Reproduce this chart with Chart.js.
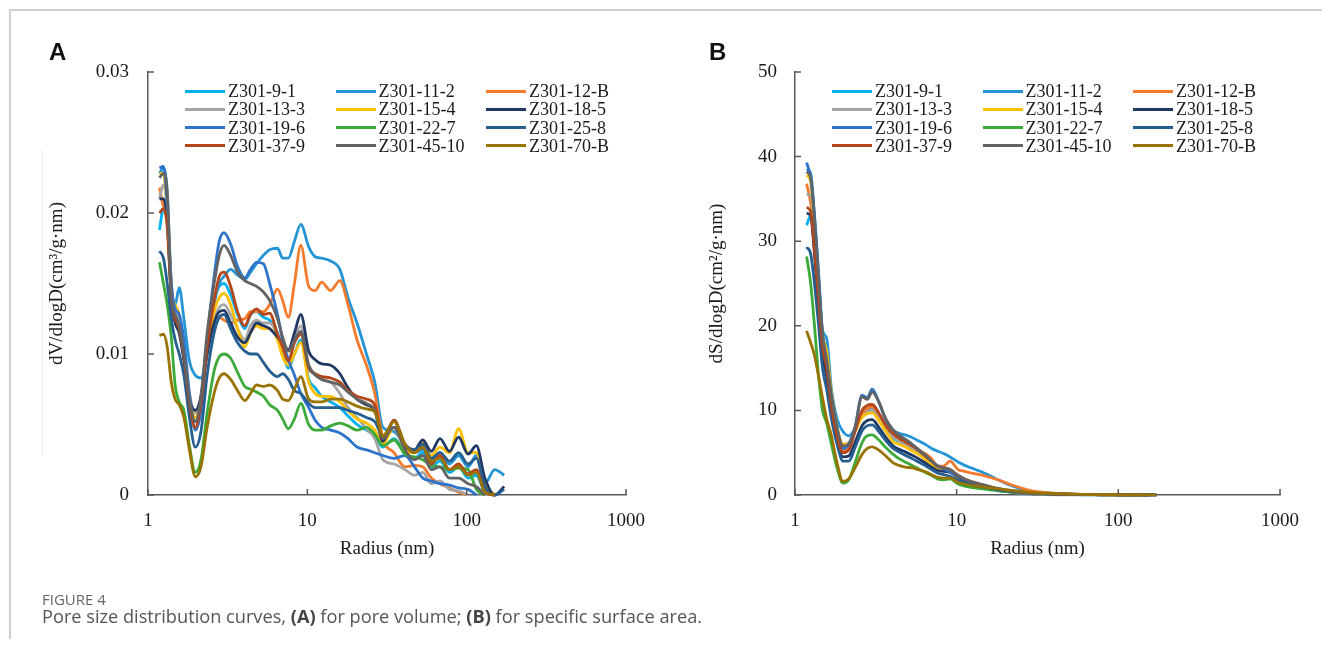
<!DOCTYPE html>
<html>
<head>
<meta charset="utf-8">
<script src="https://cdn.jsdelivr.net/npm/chart.js@4.4.1/dist/chart.umd.min.js"></script>
<style>
  html, body { margin: 0; padding: 0; background: #fff; }
  body { width: 1322px; height: 650px; position: relative; overflow: hidden; }
  .frame-top { position: absolute; left: 9px; top: 9px; width: 1313px; border-top: 2px solid #d0d0d0; }
  .frame-left { position: absolute; left: 9px; top: 9px; height: 630px; border-left: 2px solid #d0d0d0; }
  .faint { position: absolute; left: 42px; top: 150px; height: 305px; border-left: 1px solid #ececec; }
  .panel { position: absolute; top: 0; }
  .letter { position: absolute; top: 38px; font: bold 24px "Liberation Sans", Arial, sans-serif; color: #111; }
  .legend { position: absolute; top: 0; left: 0; }
  .key { position: absolute; height: 3px; }
  .key-label { position: absolute; font: 18px "Liberation Serif", serif; color: #1a1a1a; line-height: 18px; white-space: nowrap; }
  .fig-label { position: absolute; left: 42px; top: 589px; font: 15px "Open Sans", sans-serif; color: #666; }
  .caption { position: absolute; left: 42px; top: 604px; font: 18.2px "Open Sans", sans-serif; color: #555; white-space: nowrap; }
  .caption b { color: #444; }
</style>
</head>
<body>
<div class="frame-top"></div>
<div class="frame-left"></div>
<div class="faint"></div>

<div class="panel" style="left:0px"><canvas id="chartA" width="660" height="600"></canvas></div>
<div class="panel" style="left:660px"><canvas id="chartB" width="662" height="600"></canvas></div>
<div class="letter" style="left:49px">A</div>
<div class="letter" style="left:709px">B</div>
<div id="legendA" class="legend"></div>
<div id="legendB" class="legend"></div>

<div class="fig-label">FIGURE 4</div>
<div class="caption">Pore size distribution curves, <b>(A)</b> for pore volume; <b>(B)</b> for specific surface area.</div>

<script>
// pore radius (nm), shared by every sample
const radius = [1.18, 1.25, 1.32, 1.4, 1.48, 1.57, 1.68, 1.82, 1.98, 2.15,
  2.35, 2.6, 2.8, 3.0, 3.3, 3.65, 4.05, 4.4, 4.8, 5.3,
  5.8, 6.5, 7.0, 7.6, 8.3, 9.1, 10.2, 11.2, 12.3, 14,
  16, 18, 20.5, 23.5, 26.5, 29.8, 35, 41, 47, 53,
  60, 68, 78, 89, 102, 115, 130, 150, 172];

const sampleNames = ["Z301-9-1", "Z301-11-2", "Z301-12-B", "Z301-13-3", "Z301-15-4", "Z301-18-5",
  "Z301-19-6", "Z301-22-7", "Z301-25-8", "Z301-37-9", "Z301-45-10", "Z301-70-B"];

// dV/dlogD, cm3/(g·nm)
const vol_9_1 = [0.0188, 0.0203, 0.0195, 0.0145, 0.0130, 0.0120, 0.0100, 0.0068, 0.0052, 0.0068,
  0.0110, 0.0138, 0.0148, 0.0150, 0.0142, 0.0128, 0.0118, 0.0128, 0.0130, 0.0126,
  0.0124, 0.0115, 0.0103, 0.0090, 0.0100, 0.0110, 0.0082, 0.0076, 0.0070, 0.0066,
  0.0062, 0.0056, 0.0050, 0.0046, 0.0042, 0.0034, 0.0040, 0.0030, 0.0026, 0.0030,
  0.0020, 0.0024, 0.0016, 0.0020, 0.0012, 0.0014, 0.0002, 0, null];
const vol_11_2 = [0.0228, 0.0232, 0.0215, 0.0150, 0.0135, 0.0147, 0.0125, 0.0095, 0.0085, 0.0083,
  0.0100, 0.0135, 0.0150, 0.0155, 0.0160, 0.0156, 0.0153, 0.0158, 0.0164, 0.0170,
  0.0174, 0.0175, 0.0168, 0.0168, 0.0180, 0.0192, 0.0176, 0.0169, 0.0168, 0.0166,
  0.0160, 0.0140, 0.0122, 0.0100, 0.0080, 0.0048, 0.0045, 0.0035, 0.0030, 0.0032,
  0.0025, 0.0030, 0.0022, 0.0028, 0.0020, 0.0028, 0.0008, 0.0018, 0.0014];
const vol_12_B = [0.0218, 0.0205, 0.0200, 0.0150, 0.0125, 0.0120, 0.0100, 0.0065, 0.0047, 0.0065,
  0.0105, 0.0125, 0.0126, 0.0124, 0.0122, 0.0124, 0.0125, 0.0130, 0.0130, 0.0130,
  0.0135, 0.0146, 0.0138, 0.0126, 0.0150, 0.0177, 0.0148, 0.0145, 0.0151, 0.0145,
  0.0152, 0.0135, 0.0110, 0.0092, 0.0072, 0.0040, 0.0030, 0.0020, 0.0021, 0.0020,
  0.0012, 0.0008, 0.0005, 0.0002, 0, null, null, null, null];
const vol_13_3 = [0.0210, 0.0220, 0.0205, 0.0145, 0.0130, 0.0122, 0.0100, 0.0072, 0.0058, 0.0070,
  0.0100, 0.0125, 0.0133, 0.0135, 0.0128, 0.0118, 0.0110, 0.0120, 0.0124, 0.0122,
  0.0122, 0.0114, 0.0104, 0.0095, 0.0110, 0.0120, 0.0092, 0.0086, 0.0082, 0.0080,
  0.0072, 0.0062, 0.0055, 0.0047, 0.0040, 0.0025, 0.0022, 0.0018, 0.0014, 0.0016,
  0.0008, 0.0010, 0.0004, 0.0003, 0, null, null, null, null];
const vol_15_4 = [0.0228, 0.0228, 0.0200, 0.0145, 0.0135, 0.0128, 0.0105, 0.0070, 0.0055, 0.0068,
  0.0105, 0.0130, 0.0140, 0.0143, 0.0135, 0.0118, 0.0105, 0.0115, 0.0120, 0.0118,
  0.0118, 0.0110, 0.0098, 0.0092, 0.0100, 0.0108, 0.0080, 0.0072, 0.0070, 0.0070,
  0.0066, 0.0060, 0.0054, 0.0051, 0.0046, 0.0036, 0.0048, 0.0032, 0.0030, 0.0038,
  0.0028, 0.0034, 0.0030, 0.0047, 0.0030, 0.0030, 0.0008, 0, null];
const vol_18_5 = [0.0210, 0.0210, 0.0195, 0.0140, 0.0122, 0.0115, 0.0095, 0.0068, 0.0060, 0.0070,
  0.0100, 0.0122, 0.0130, 0.0131, 0.0122, 0.0112, 0.0108, 0.0115, 0.0122, 0.0120,
  0.0118, 0.0112, 0.0108, 0.0103, 0.0115, 0.0128, 0.0102, 0.0096, 0.0093, 0.0092,
  0.0086, 0.0076, 0.0068, 0.0064, 0.0060, 0.0038, 0.0053, 0.0034, 0.0032, 0.0039,
  0.0031, 0.0040, 0.0031, 0.0041, 0.0029, 0.0035, 0.0012, 0, 0.0006];
const vol_19_6 = [0.0232, 0.0233, 0.0205, 0.0150, 0.0132, 0.0128, 0.0110, 0.0072, 0.0046, 0.0060,
  0.0110, 0.0155, 0.0180, 0.0186, 0.0178, 0.0162, 0.0154, 0.0160, 0.0165, 0.0164,
  0.0150, 0.0128, 0.0110, 0.0096, 0.0085, 0.0072, 0.0062, 0.0053, 0.0048, 0.0046,
  0.0044, 0.0040, 0.0034, 0.0032, 0.0030, 0.0028, 0.0026, 0.0028, 0.0020, 0.0012,
  0.0010, 0.0008, 0.0007, 0.0005, 0.0004, 0, null, null, null];
const vol_22_7 = [0.0165, 0.0150, 0.0135, 0.0112, 0.0078, 0.0066, 0.0060, 0.0035, 0.0016, 0.0025,
  0.0058, 0.0088, 0.0098, 0.0100, 0.0097, 0.0087, 0.0077, 0.0075, 0.0073, 0.0070,
  0.0064, 0.0060, 0.0054, 0.0047, 0.0054, 0.0065, 0.0050, 0.0046, 0.0046, 0.0049,
  0.0051, 0.0049, 0.0046, 0.0048, 0.0043, 0.0035, 0.0039, 0.0029, 0.0027, 0.0025,
  0.0021, 0.0020, 0.0018, 0.0019, 0.0018, 0.0004, 0, null, null];
const vol_25_8 = [0.0173, 0.0168, 0.0150, 0.0125, 0.0110, 0.0100, 0.0085, 0.0055, 0.0034, 0.0045,
  0.0085, 0.0115, 0.0126, 0.0128, 0.0118, 0.0108, 0.0102, 0.0100, 0.0100, 0.0094,
  0.0088, 0.0084, 0.0086, 0.0082, 0.0074, 0.0072, 0.0065, 0.0062, 0.0062, 0.0062,
  0.0062, 0.0060, 0.0058, 0.0055, 0.0052, 0.0042, 0.0048, 0.0036, 0.0032, 0.0036,
  0.0026, 0.0030, 0.0024, 0.0030, 0.0022, 0.0026, 0.0006, 0, 0.0004];
const vol_37_9 = [0.0200, 0.0203, 0.0190, 0.0140, 0.0125, 0.0118, 0.0098, 0.0065, 0.0048, 0.0065,
  0.0105, 0.0138, 0.0155, 0.0158, 0.0148, 0.0130, 0.0120, 0.0128, 0.0132, 0.0128,
  0.0129, 0.0114, 0.0105, 0.0095, 0.0108, 0.0114, 0.0090, 0.0086, 0.0084, 0.0083,
  0.0080, 0.0074, 0.0070, 0.0068, 0.0064, 0.0040, 0.0053, 0.0036, 0.0030, 0.0034,
  0.0022, 0.0028, 0.0018, 0.0022, 0.0015, 0.0018, 0.0002, 0, null];
const vol_45_10 = [0.0225, 0.0228, 0.0215, 0.0140, 0.0128, 0.0120, 0.0100, 0.0068, 0.0052, 0.0070,
  0.0115, 0.0150, 0.0170, 0.0177, 0.0170, 0.0158, 0.0152, 0.0150, 0.0148, 0.0144,
  0.0138, 0.0125, 0.0112, 0.0102, 0.0110, 0.0116, 0.0092, 0.0085, 0.0082, 0.0080,
  0.0078, 0.0073, 0.0068, 0.0065, 0.0060, 0.0040, 0.0048, 0.0032, 0.0025, 0.0028,
  0.0018, 0.0020, 0.0012, 0.0012, 0.0008, 0.0006, 0, null, null];
const vol_70_B = [0.0113, 0.0114, 0.0105, 0.0080, 0.0068, 0.0064, 0.0055, 0.0032, 0.0013, 0.0020,
  0.0048, 0.0072, 0.0083, 0.0086, 0.0082, 0.0074, 0.0067, 0.0072, 0.0078, 0.0077,
  0.0078, 0.0074, 0.0068, 0.0067, 0.0075, 0.0084, 0.0068, 0.0066, 0.0066, 0.0068,
  0.0068, 0.0066, 0.0063, 0.0061, 0.0059, 0.0042, 0.0052, 0.0036, 0.0030, 0.0034,
  0.0024, 0.0026, 0.0018, 0.0020, 0.0014, 0.0016, 0.0002, 0, null];

// dS/dlogD, cm2/(g·nm)
const area_9_1 = [31.9, 33.0, 29.0, 23.0, 17.5, 15.0, 10.5, 7.2, 5.5, 5.8,
  7.8, 9.8, 10.2, 10.3, 9.3, 7.8, 6.7, 6.3, 5.9, 5.4,
  4.9, 4.2, 3.7, 3.1, 2.9, 2.8, 2.1, 1.7, 1.4, 1.1,
  0.8, 0.6, 0.42, 0.3, 0.2, 0.13, 0.1, 0.07, 0.05, 0.05,
  0.03, 0.03, 0.02, 0.02, 0.01, 0.01, 0, null, null];
const area_11_2 = [38.5, 38.0, 33.0, 26.0, 19.5, 18.5, 12.5, 9.0, 7.5, 7.0,
  7.8, 9.5, 10.2, 10.3, 9.5, 8.2, 7.6, 7.3, 7.1, 6.8,
  6.4, 5.9, 5.5, 5.2, 4.9, 4.5, 3.9, 3.5, 3.2, 2.8,
  2.3, 1.8, 1.3, 0.9, 0.55, 0.35, 0.25, 0.18, 0.13, 0.1,
  0.08, 0.06, 0.05, 0.05, 0.03, 0.03, 0.01, 0.01, 0.01];
const area_12_B = [36.8, 34.5, 30.0, 24.0, 18.0, 15.0, 11.0, 7.5, 5.2, 5.5,
  7.5, 9.5, 10.2, 10.4, 9.5, 8.0, 7.0, 6.6, 6.2, 5.8,
  5.3, 4.8, 4.3, 3.4, 3.4, 4.0, 3.0, 2.8, 2.6, 2.4,
  2.1, 1.8, 1.4, 1.0, 0.7, 0.45, 0.3, 0.2, 0.15, 0.1,
  0.07, 0.04, 0.03, 0.01, 0, null, null, null, null];
const area_13_3 = [35.5, 35.5, 31.0, 24.0, 18.0, 15.5, 11.0, 7.8, 6.0, 6.2,
  7.8, 9.2, 9.8, 9.9, 9.0, 7.8, 6.8, 6.4, 6.0, 5.5,
  5.0, 4.3, 3.8, 3.2, 3.0, 2.8, 2.1, 1.7, 1.4, 1.1,
  0.8, 0.55, 0.38, 0.25, 0.15, 0.08, 0.05, 0.03, 0.02, 0.02,
  0.01, 0.01, 0, 0, 0, null, null, null, null];
const area_15_4 = [37.8, 37.0, 32.0, 25.0, 19.0, 17.0, 12.0, 8.0, 6.0, 6.0,
  7.5, 9.2, 9.6, 9.7, 8.8, 7.5, 6.3, 6.0, 5.7, 5.2,
  4.8, 4.1, 3.6, 3.0, 2.9, 2.7, 2.0, 1.6, 1.35, 1.05,
  0.8, 0.6, 0.42, 0.3, 0.2, 0.13, 0.12, 0.08, 0.06, 0.06,
  0.04, 0.04, 0.03, 0.03, 0.02, 0.02, 0.01, 0, null];
const area_18_5 = [33.3, 33.0, 28.5, 22.0, 16.5, 14.0, 10.0, 6.5, 4.5, 4.6,
  6.2, 8.2, 8.8, 8.9, 8.0, 6.8, 5.8, 5.4, 5.1, 4.7,
  4.3, 3.7, 3.3, 2.9, 2.8, 2.7, 2.1, 1.7, 1.4, 1.1,
  0.85, 0.6, 0.45, 0.32, 0.22, 0.15, 0.13, 0.09, 0.07, 0.07,
  0.05, 0.05, 0.04, 0.04, 0.03, 0.03, 0.01, 0, 0.01];
const area_19_6 = [39.3, 37.5, 33.0, 26.0, 19.0, 15.5, 11.5, 7.5, 5.5, 6.0,
  8.0, 11.8, 11.5, 12.5, 11.0, 8.8, 7.5, 7.0, 6.6, 6.0,
  5.3, 4.5, 4.0, 3.5, 3.1, 2.7, 2.2, 1.8, 1.5, 1.1,
  0.8, 0.6, 0.4, 0.3, 0.2, 0.15, 0.12, 0.1, 0.08, 0.06,
  0.05, 0.04, 0.03, 0.03, 0.02, 0.02, 0.01, 0, null];
const area_22_7 = [28.2, 25.0, 20.0, 14.0, 10.0, 8.5, 6.0, 3.2, 1.4, 1.8,
  3.8, 6.2, 7.0, 7.1, 6.5, 5.6, 4.8, 4.3, 3.9, 3.5,
  3.1, 2.6, 2.3, 1.9, 1.8, 1.9, 1.3, 1.05, 0.9, 0.75,
  0.62, 0.5, 0.4, 0.32, 0.25, 0.18, 0.14, 0.1, 0.08, 0.06,
  0.05, 0.04, 0.03, 0.03, 0.02, 0.01, 0, null, null];
const area_25_8 = [29.3, 28.5, 25.0, 20.0, 15.0, 12.5, 9.0, 6.0, 4.0, 4.0,
  5.6, 7.6, 8.2, 8.3, 7.5, 6.4, 5.5, 5.1, 4.7, 4.3,
  3.9, 3.4, 3.0, 2.6, 2.4, 2.2, 1.7, 1.4, 1.2, 1.0,
  0.8, 0.62, 0.48, 0.36, 0.27, 0.2, 0.16, 0.12, 0.1, 0.08,
  0.06, 0.05, 0.04, 0.04, 0.03, 0.03, 0.01, 0, 0.01];
const area_37_9 = [34.0, 33.5, 29.0, 23.0, 17.5, 15.0, 10.5, 7.0, 5.0, 5.3,
  7.5, 10.0, 10.6, 10.7, 9.7, 8.2, 7.2, 6.7, 6.3, 5.8,
  5.3, 4.5, 4.0, 3.4, 3.2, 3.0, 2.3, 1.9, 1.6, 1.3,
  1.0, 0.75, 0.55, 0.4, 0.3, 0.2, 0.17, 0.12, 0.1, 0.08,
  0.06, 0.05, 0.04, 0.04, 0.03, 0.03, 0.01, 0, null];
const area_45_10 = [38.2, 37.5, 32.5, 25.5, 19.0, 16.0, 11.8, 8.0, 5.8, 6.0,
  8.0, 11.6, 11.3, 12.2, 11.0, 9.0, 7.7, 7.1, 6.6, 6.0,
  5.4, 4.6, 4.0, 3.4, 3.2, 3.0, 2.3, 1.9, 1.6, 1.3,
  1.0, 0.78, 0.58, 0.42, 0.3, 0.2, 0.16, 0.11, 0.08, 0.07,
  0.05, 0.04, 0.03, 0.03, 0.02, 0.02, 0, null, null];
const area_70_B = [19.4, 18.0, 16.5, 14.0, 11.5, 9.0, 7.0, 3.8, 1.6, 1.9,
  3.2, 4.8, 5.5, 5.7, 5.3, 4.6, 3.8, 3.5, 3.3, 3.2,
  3.0, 2.7, 2.4, 2.1, 2.0, 2.0, 1.5, 1.3, 1.15, 1.0,
  0.85, 0.72, 0.6, 0.48, 0.38, 0.28, 0.22, 0.17, 0.13, 0.11,
  0.08, 0.06, 0.05, 0.04, 0.03, 0.02, 0.02, 0.01, 0.01];

const volumeSeries = [vol_9_1, vol_11_2, vol_12_B, vol_13_3, vol_15_4, vol_18_5,
  vol_19_6, vol_22_7, vol_25_8, vol_37_9, vol_45_10, vol_70_B];
const areaSeries = [area_9_1, area_11_2, area_12_B, area_13_3, area_15_4, area_18_5,
  area_19_6, area_22_7, area_25_8, area_37_9, area_45_10, area_70_B];

const lineColors = ["#00b0f0", "#2394d6", "#f57a2c", "#a5a5a5", "#ffc000", "#1f3864",
  "#2e73cc", "#3caa38", "#255e91", "#b4461a", "#636363", "#997300"];

const axisColor = "#595959";
const serif = "'Liberation Serif', 'Times New Roman', serif";

// short tick marks pointing into the plot
const innerTicks = {
  id: "innerTicks",
  afterDraw(chart) {
    const { ctx, chartArea: area, scales } = chart;
    ctx.save();
    ctx.strokeStyle = axisColor;
    ctx.lineWidth = 1.5;
    ctx.beginPath();
    scales.x.ticks.forEach((t) => {
      const px = scales.x.getPixelForValue(t.value);
      ctx.moveTo(px, area.bottom);
      ctx.lineTo(px, area.bottom - 6);
    });
    scales.y.ticks.forEach((t) => {
      const py = scales.y.getPixelForValue(t.value);
      ctx.moveTo(area.left, py);
      ctx.lineTo(area.left + 6, py);
    });
    ctx.stroke();
    ctx.restore();
  },
};

const makeDatasets = (series) =>
  series.map((values, i) => ({
    label: sampleNames[i],
    data: radius.map((r, k) => ({ x: r, y: values[k] })),
    borderColor: lineColors[i],
    borderWidth: 2.8,
    pointRadius: 0,
    fill: false,
    cubicInterpolationMode: "monotone",
    clip: false,
    order: series.length - i, // later samples sit on top
  }));

const drawPanel = (canvasId, series, opts) => {
  const ctx = document.getElementById(canvasId).getContext("2d");
  return new Chart(ctx, {
    type: "line",
    data: { datasets: makeDatasets(series) },
    options: {
      responsive: false,
      animation: false,
      devicePixelRatio: 1,
      layout: { padding: { left: 0, top: 72, right: opts.rightPad, bottom: 0 } },
      plugins: { legend: { display: false }, tooltip: { enabled: false } },
      scales: {
        x: {
          type: "logarithmic",
          min: 1,
          max: 1000,
          afterBuildTicks: (scale) => {
            scale.ticks = [1, 10, 100, 1000].map((v) => ({ value: v }));
          },
          afterFit: (scale) => { scale.height = 105; },
          grid: { display: false, drawTicks: false },
          border: { display: true, color: axisColor, width: 1.5 },
          ticks: {
            autoSkip: false,
            maxRotation: 0,
            padding: 15,
            color: "#1a1a1a",
            font: { family: serif, size: 19 },
            callback: (v) => String(v),
          },
          title: {
            display: true,
            text: "Radius (nm)",
            color: "#1a1a1a",
            font: { family: serif, size: 19 },
            padding: { top: 0, bottom: 40 },
          },
        },
        y: {
          min: 0,
          max: opts.yMax,
          afterFit: (scale) => { scale.width = opts.axisWidth; },
          grid: { display: false, drawTicks: false },
          border: { display: true, color: axisColor, width: 1.5 },
          ticks: {
            stepSize: opts.yStep,
            padding: opts.labelPad,
            color: "#1a1a1a",
            font: { family: serif, size: 19 },
            callback: opts.format,
          },
          title: {
            display: true,
            text: opts.yTitle,
            color: "#1a1a1a",
            font: { family: serif, size: 19 },
            padding: { top: 46, bottom: 0 },
          },
        },
      },
    },
    plugins: [innerTicks],
  });
};

drawPanel("chartA", volumeSeries, {
  yMax: 0.03, yStep: 0.01, axisWidth: 148, rightPad: 26, labelPad: 19,
  yTitle: "dV/dlogD(cm³/g·nm)",
  format: (v) => (v === 0 ? "0" : v.toFixed(2)),
});
drawPanel("chartB", areaSeries, {
  yMax: 50, yStep: 10, axisWidth: 135, rightPad: 42, labelPad: 18,
  yTitle: "dS/dlogD(cm²/g·nm)",
  format: (v) => String(Math.round(v)),
});

// three-column legend inside each panel
const buildLegend = (id, left) => {
  const box = document.getElementById(id);
  sampleNames.forEach((name, i) => {
    const col = i % 3, row = Math.floor(i / 3);
    const x = left + col * 150.5, y = 91 + row * 18.3;
    const key = document.createElement("div");
    key.className = "key";
    key.style.cssText = `left:${x}px;top:${y - 1.5}px;width:40px;background:${lineColors[i]}`;
    const label = document.createElement("div");
    label.className = "key-label";
    label.style.cssText = `left:${x + 43}px;top:${y - 9}px`;
    label.textContent = name;
    box.appendChild(key);
    box.appendChild(label);
  });
};
buildLegend("legendA", 185);
buildLegend("legendB", 832);
</script>
</body>
</html>
